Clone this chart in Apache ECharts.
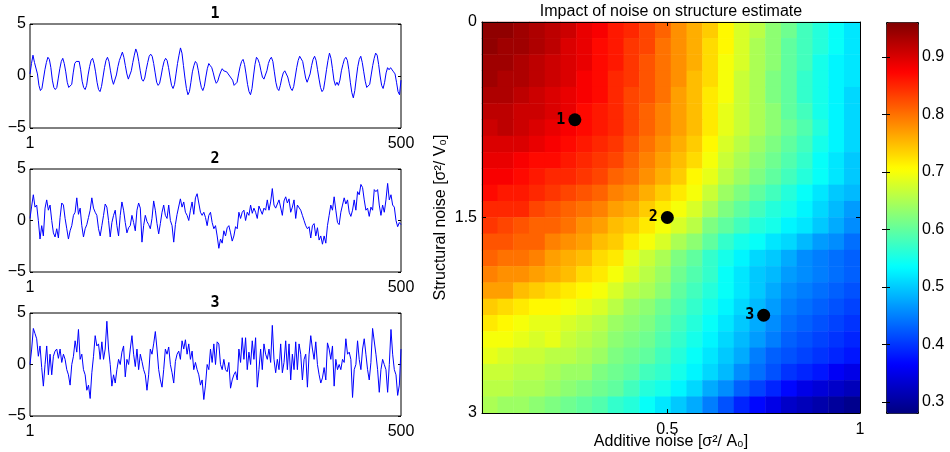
<!DOCTYPE html>
<html><head><meta charset="utf-8">
<script src="https://cdn.jsdelivr.net/npm/echarts@6/dist/echarts.min.js"></script>
<style>html,body{margin:0;padding:0;background:#fff}#c{width:950px;height:452px}</style>
</head><body><div id="c"></div>
<script>
// ---- data ----
const lineTitles = ['1', '2', '3'];
const lineXTicks = [1, 500];
const lineYTicks = [-5, 0, 5];
const series1 = [0.2,1.2,2.0,1.3,1.2,0.2,-0.9,-1.4,-1.2,-0.3, 0.6,1.3,1.8,1.6,0.8,-0.4,-1.1,-1.3,-1.1,-0.2, 0.7,1.4,1.7,1.2,0.4,-0.6,-1.1,-1.2,-0.8,0.3, 1.2,1.4,1.3,1.4,0.6,-0.5,-1.1,-1.3,-0.9,0.1, 0.9,1.5,1.7,1.2,0.4,-0.6,-1.3,-1.5,-1.0,-0.1, 0.8,1.5,1.8,1.4,0.5,-0.3,-0.8,-0.7,0.1,0.9, 1.5,1.9,2.3,1.8,1.0,0.2,-0.3,-0.2,0.5,1.3, 2.0,2.6,2.2,1.4,0.5,-0.3,-0.5,-0.2,0.6,1.3, 1.9,2.1,1.9,1.2,0.3,-0.6,-0.9,-0.7,0.0,0.8, 1.4,1.7,1.5,0.8,-0.1,-0.9,-1.2,-0.8,0.2,1.2, 2.0,2.7,2.2,1.0,-0.2,-1.2,-1.8,-1.5,-0.6,0.4, 1.0,1.4,1.2,0.5,-0.4,-1.1,-1.4,-1.0,-0.1,0.7, 1.2,1.0,0.8,0.3,-0.3,-0.7,-0.5,0.0,0.4,0.7, 0.5,0.6,0.4,0.2,0.3,-0.2,-0.4,-0.9,-1.0,-0.6, 0.2,0.9,1.4,1.6,1.1,0.2,-0.8,-1.5,-1.8,-1.2, 0.0,1.1,1.8,1.6,1.2,0.5,-0.1,-0.3,-0.2,0.5, 1.2,1.6,1.8,1.4,0.4,-0.6,-1.2,-1.4,-0.9,-0.2, 0.3,0.5,0.4,-0.1,-0.7,-1.2,-1.4,-1.0,-0.1,0.8, 1.5,1.9,1.8,1.4,0.6,-0.2,-0.6,-0.5,0.2,1.0, 1.6,1.9,1.5,0.6,-0.3,-1.1,-1.5,-1.3,-0.4,0.6, 1.5,2.2,1.7,0.7,-0.4,-0.9,-0.6,-0.9,-0.4,0.5, 1.1,1.6,1.8,1.5,0.6,-0.6,-1.6,-2.1,-1.4,-0.2, 0.9,1.6,1.9,1.3,0.4,-0.5,-1.1,-1.2,-0.8,0.1, 1.0,1.7,2.2,2.0,1.1,0.0,-0.9,-1.2,-0.6,0.3, 0.8,0.6,0.8,0.7,0.4,0.2,-0.6,-1.5,-1.8,-0.4];
const series2 = [0.2,1.4,2.5,1.3,1.5,0.0,-1.8,-0.5,-1.5,1.2, 2.0,1.0,1.5,0.0,-1.2,-1.6,-0.8,-1.7,0.3,1.7, 1.5,0.2,-0.8,-1.8,-1.0,-0.5,0.5,0.8,2.2,0.6, 1.2,-0.5,-1.6,-0.8,-0.4,0.3,1.0,2.2,1.2,0.8, 0.5,-0.8,-1.5,-0.5,0.5,1.6,1.3,0.0,-1.6,-0.2, 0.5,1.0,-0.5,-1.5,0.5,1.8,1.0,-0.2,-1.2,-0.7, -0.5,0.5,-0.2,-1.0,1.0,1.7,1.2,-2.1,-0.5,0.5, -0.1,-0.4,-0.8,0.2,1.9,1.0,-0.3,-1.3,-0.3,0.8, 1.5,0.5,0.2,1.5,0.0,-0.5,-2.1,-0.4,0.6,0.5, 2.1,1.3,1.8,0.8,0.5,0.0,1.0,1.8,0.6,2.2, 2.6,2.7,0.8,0.5,0.8,0.3,-0.5,0.5,0.8,-0.2, -0.8,-0.5,-1.5,-2.7,-1.8,-2.2,-1.0,-1.5,-0.7,-0.5, -1.2,-2.0,-1.5,-0.6,-0.8,0.8,0.2,0.8,1.0,0.0, 0.8,0.5,1.5,0.7,1.2,0.8,0.2,1.4,1.5,0.6, 1.2,1.0,2.0,1.0,1.8,3.1,1.5,1.2,1.2,2.0, 2.0,0.5,1.9,2.3,1.7,2.1,0.8,1.3,2.0,0.2, 1.5,1.5,1.0,0.5,0.0,-0.5,-0.8,-0.6,-1.7,-0.5, -0.3,-1.5,-0.7,-1.9,-1.5,-2.3,-1.5,-2.2,-0.5,0.5, 1.5,1.0,2.3,1.0,-0.2,-0.4,0.8,1.5,2.2,1.6, 2.0,0.8,0.4,1.0,2.0,1.0,2.8,2.5,3.5,3.2, 2.0,1.0,1.2,0.4,1.3,1.0,3.0,2.8,3.0,1.5, 0.5,1.5,0.8,2.0,3.6,2.0,2.5,1.5,1.3,0.0, -0.6,-0.2,-0.4];
const series3 = [0.0,1.5,3.5,3.0,2.5,0.8,1.8,-0.3,-2.1,0.0, 1.8,-1.0,1.0,-1.0,0.8,1.3,1.5,0.6,1.5,0.2, 1.0,0.5,-0.5,-1.0,-2.0,0.0,0.8,2.3,1.2,3.4, 0.5,1.0,-0.5,-1.0,-2.5,-2.0,-3.3,-0.8,0.8,2.8, 1.8,2.0,0.5,2.2,0.5,1.5,4.2,1.5,0.0,-2.1, -1.0,-1.8,-0.5,0.5,0.0,1.2,1.8,-1.2,0.5,0.0, 1.5,2.8,1.0,-0.2,1.5,-0.5,1.0,0.3,-0.5,-1.0, -2.5,-1.0,1.5,1.0,2.0,3.2,1.5,-0.5,-1.5,-2.2, -0.5,1.5,1.0,1.7,0.0,-0.8,-1.8,0.3,1.0,1.3, 0.5,2.3,1.5,2.4,1.0,2.0,0.5,1.3,-0.5,0.2, -0.5,-1.0,-2.0,-1.5,-3.4,-2.0,0.0,-0.5,1.5,0.2, 2.0,0.0,2.2,2.0,0.0,-0.5,0.5,-0.5,-0.7,0.2, -2.3,-1.5,-1.0,-0.7,-1.5,1.5,0.2,2.6,0.5,2.6, -0.5,1.2,0.0,2.3,0.5,2.6,-2.2,-0.5,1.5,-0.5, 2.0,1.0,0.5,1.5,0.2,3.8,0.5,-0.8,0.5,-0.5, 2.0,-0.8,0.2,2.3,-0.5,2.0,-1.5,1.0,-0.5,2.2, -0.5,2.0,1.0,-1.5,0.5,1.0,-2.2,1.0,2.8,1.5, 0.5,2.2,0.0,-1.0,-1.8,-1.3,-0.3,-1.5,2.1,1.5, 0.5,1.8,-2.1,0.5,-0.5,0.0,-0.5,0.5,0.2,2.5, 1.0,1.2,0.5,-3.2,-0.5,0.0,2.3,0.5,-0.5,1.5, 2.5,1.0,-0.5,-1.5,0.2,3.5,3.5,1.0,-0.5,-2.7, -0.5,0.5,0.0,-0.5,-2.7,0.0,3.4,1.0,-0.5,-1.0, -3.0,-2.0,1.5];

// heatmap: rows = structural noise from 0 (top) to 3 (bottom), columns = additive noise
const heatRows = [
[0.95,0.95,0.94,0.93,0.92,0.91,0.89,0.88,0.86,0.85,0.83,0.81,0.78,0.76,0.74,0.71,0.68,0.66,0.63,0.61,0.58,0.56,0.54,0.52],
[0.95,0.94,0.94,0.93,0.92,0.90,0.89,0.87,0.86,0.84,0.83,0.80,0.78,0.76,0.73,0.71,0.68,0.65,0.63,0.60,0.58,0.56,0.54,0.52],
[0.94,0.94,0.93,0.92,0.91,0.90,0.89,0.87,0.86,0.84,0.82,0.80,0.78,0.76,0.73,0.70,0.68,0.65,0.63,0.60,0.58,0.55,0.53,0.52],
[0.94,0.93,0.93,0.92,0.91,0.90,0.88,0.87,0.85,0.84,0.82,0.80,0.78,0.75,0.73,0.70,0.67,0.65,0.62,0.60,0.57,0.55,0.53,0.52],
[0.93,0.93,0.92,0.91,0.90,0.89,0.88,0.87,0.85,0.83,0.82,0.80,0.77,0.75,0.72,0.70,0.67,0.65,0.62,0.60,0.57,0.55,0.53,0.51],
[0.92,0.92,0.91,0.91,0.90,0.89,0.87,0.86,0.85,0.83,0.81,0.79,0.77,0.75,0.72,0.69,0.67,0.65,0.63,0.60,0.58,0.55,0.53,0.51],
[0.91,0.92,0.91,0.90,0.89,0.88,0.87,0.86,0.85,0.83,0.81,0.79,0.77,0.75,0.72,0.69,0.67,0.65,0.63,0.61,0.59,0.56,0.53,0.51],
[0.90,0.90,0.90,0.89,0.88,0.87,0.86,0.85,0.84,0.82,0.80,0.78,0.76,0.74,0.71,0.68,0.66,0.64,0.62,0.60,0.58,0.55,0.53,0.51],
[0.89,0.89,0.88,0.87,0.87,0.86,0.85,0.84,0.83,0.81,0.79,0.77,0.75,0.73,0.70,0.67,0.65,0.63,0.61,0.59,0.57,0.54,0.52,0.50],
[0.88,0.88,0.87,0.86,0.85,0.85,0.84,0.83,0.81,0.80,0.78,0.76,0.74,0.71,0.69,0.66,0.64,0.62,0.60,0.58,0.56,0.54,0.52,0.50],
[0.87,0.86,0.86,0.85,0.84,0.83,0.82,0.81,0.79,0.78,0.76,0.74,0.72,0.70,0.67,0.64,0.62,0.60,0.58,0.56,0.54,0.52,0.50,0.49],
[0.85,0.85,0.85,0.83,0.82,0.81,0.80,0.79,0.77,0.76,0.74,0.72,0.70,0.68,0.65,0.62,0.60,0.58,0.56,0.55,0.53,0.51,0.49,0.47],
[0.84,0.83,0.82,0.81,0.81,0.80,0.78,0.77,0.75,0.74,0.72,0.70,0.68,0.66,0.62,0.60,0.58,0.56,0.55,0.53,0.52,0.50,0.48,0.46],
[0.82,0.82,0.81,0.81,0.79,0.78,0.77,0.75,0.74,0.72,0.70,0.68,0.65,0.63,0.60,0.57,0.55,0.54,0.52,0.51,0.49,0.47,0.46,0.44],
[0.81,0.80,0.80,0.79,0.77,0.76,0.75,0.73,0.72,0.69,0.67,0.65,0.62,0.60,0.57,0.55,0.53,0.51,0.50,0.48,0.46,0.45,0.44,0.43],
[0.79,0.78,0.78,0.77,0.76,0.75,0.73,0.72,0.70,0.68,0.66,0.64,0.61,0.59,0.57,0.54,0.52,0.50,0.49,0.47,0.46,0.45,0.44,0.43],
[0.77,0.77,0.75,0.74,0.73,0.72,0.71,0.70,0.68,0.66,0.65,0.63,0.60,0.58,0.56,0.54,0.52,0.50,0.48,0.46,0.45,0.44,0.43,0.42],
[0.74,0.73,0.72,0.71,0.71,0.70,0.69,0.68,0.66,0.64,0.63,0.61,0.59,0.57,0.55,0.53,0.51,0.49,0.47,0.45,0.44,0.43,0.42,0.41],
[0.72,0.71,0.70,0.69,0.69,0.68,0.67,0.66,0.64,0.63,0.62,0.60,0.58,0.56,0.54,0.52,0.50,0.48,0.46,0.44,0.43,0.42,0.41,0.40],
[0.70,0.70,0.69,0.68,0.69,0.67,0.66,0.65,0.63,0.62,0.61,0.59,0.57,0.55,0.53,0.51,0.49,0.47,0.45,0.43,0.42,0.41,0.40,0.39],
[0.69,0.68,0.67,0.67,0.66,0.66,0.65,0.64,0.62,0.61,0.60,0.58,0.56,0.54,0.52,0.50,0.48,0.45,0.43,0.42,0.41,0.40,0.39,0.38],
[0.67,0.67,0.66,0.66,0.65,0.64,0.64,0.62,0.61,0.60,0.58,0.57,0.55,0.53,0.51,0.49,0.46,0.44,0.42,0.40,0.39,0.38,0.36,0.35],
[0.66,0.66,0.65,0.65,0.64,0.63,0.62,0.61,0.60,0.58,0.56,0.55,0.53,0.51,0.48,0.46,0.43,0.41,0.39,0.37,0.35,0.34,0.33,0.32],
[0.65,0.64,0.64,0.63,0.62,0.61,0.60,0.59,0.57,0.56,0.54,0.52,0.50,0.48,0.45,0.42,0.39,0.37,0.35,0.33,0.32,0.31,0.30,0.29]
];
const pointX = [0.26, 0.5, 0.75];
const pointY = [0.75, 1.5, 2.25];
const pointLabels = ['1', '2', '3'];
const heatXTicks = [0.5, 1];
const heatYTicks = [0, 1.5, 3];
const colorbarTicks = [0.3, 0.4, 0.5, 0.6, 0.7, 0.8, 0.9];
const colorMin = 0.281, colorMax = 0.961;
const jet = ['#000080','#0000ff','#0080ff','#00ffff','#80ff80','#ffff00','#ff8000','#ff0000','#800000'];

// ---- build ----
const chart = echarts.init(document.getElementById('c'), null, {renderer: 'canvas'});
const FONT = 'Liberation Sans, Arial, sans-serif';
const MONO = 'DejaVu Sans Mono, monospace';
const lineSeriesData = [series1, series2, series3];
const lineGrids = [{top: 24, height: 104}, {top: 169, height: 103}, {top: 313, height: 103}];

const grids = [], xAxes = [], yAxes = [], series = [], titles = [];
const fmtMinus = v => (v < 0 ? '\u2212' + Math.abs(v) : String(v));

lineGrids.forEach((g, i) => {
  grids.push({left: 30, width: 371, top: g.top, height: g.height, show: true,
    borderColor: '#000', borderWidth: 1, backgroundColor: 'transparent', containLabel: false, outerBoundsMode: 'none'});
  xAxes.push({type: 'value', gridIndex: i, min: 1, max: 500,
    axisLine: {show: false}, axisTick: {show: false}, splitLine: {show: false},
    axisLabel: {customValues: lineXTicks, color: '#000', fontSize: 16, fontFamily: FONT, margin: 8,
      showMinLabel: true, showMaxLabel: true}});
  titles.push({text: lineTitles[i], left: 215, top: g.top - 17, textAlign: 'center', padding: 0,
    textStyle: {fontFamily: MONO, fontWeight: 'bold', fontSize: 15, color: '#000'}});
});
lineGrids.forEach((g, i) => {
  yAxes.push({type: 'value', gridIndex: i, min: -5, max: 5, interval: 5,
    axisLine: {show: false}, splitLine: {show: false},
    axisTick: {show: true, inside: true, length: 3, lineStyle: {color: '#000'}},
    axisLabel: {color: '#000', fontSize: 16, fontFamily: FONT, margin: 4, formatter: fmtMinus}});
});
lineGrids.forEach((g, i) => {
  yAxes.push({type: 'value', gridIndex: i, min: -5, max: 5, interval: 5, position: 'right',
    axisLine: {show: false}, splitLine: {show: false}, axisLabel: {show: false},
    axisTick: {show: true, inside: true, length: 3, lineStyle: {color: '#000'}}});
});
lineSeriesData.forEach((arr, i) => {
  const n = arr.length;
  series.push({type: 'line', xAxisIndex: i, yAxisIndex: i, symbol: 'none', animation: false,
    lineStyle: {color: '#0000ff', width: 1}, itemStyle: {color: '#0000ff'},
    data: arr.map((v, j) => [1 + j * 499 / (n - 1), v])});
});

// heatmap grid (3) + overlay grid (4) + colorbar grid (5)
const HL = 482, HT = 22, HW = 378, HH = 391;
grids.push({left: HL, top: HT, width: HW, height: HH, show: false, outerBoundsMode: 'none'});
grids.push({left: HL, top: HT, width: HW, height: HH, show: false, outerBoundsMode: 'none'});
grids.push({left: 886, top: HT, width: 32, height: HH, show: false, outerBoundsMode: 'none'});

xAxes.push({type: 'category', gridIndex: 3, data: heatRows[0].map((_, c) => String(c)), show: false});
yAxes.push({type: 'category', gridIndex: 3, data: heatRows.map((_, r) => String(r)), inverse: true, show: false});

const tickStyle = {show: true, inside: true, length: 4, lineStyle: {color: '#000'}};
const lblStyle = {color: '#000', fontSize: 16, fontFamily: FONT};
xAxes.push({type: 'value', gridIndex: 4, min: 0.019, max: 1, z: 10,
  axisLine: {show: true, onZero: false, lineStyle: {color: '#000', width: 1}},
  axisTick: Object.assign({customValues: heatXTicks}, tickStyle), splitLine: {show: false},
  axisLabel: Object.assign({customValues: heatXTicks, margin: 9, showMaxLabel: true}, lblStyle),
  name: 'Additive noise [σ²/ A₀]', nameLocation: 'middle', nameGap: 21, nameMoveOverlap: false,
  nameTextStyle: {color: '#000', fontSize: 16, fontFamily: FONT}});
xAxes.push({type: 'value', gridIndex: 4, min: 0.019, max: 1, position: 'top', z: 10,
  axisLine: {show: true, onZero: false, lineStyle: {color: '#000', width: 1}},
  axisTick: Object.assign({customValues: [0.5]}, tickStyle), splitLine: {show: false}, axisLabel: {show: false}});
xAxes.push({type: 'value', gridIndex: 5, show: false, min: 0, max: 1});

yAxes.push({type: 'value', gridIndex: 4, min: 0, max: 3, inverse: true, z: 10,
  axisLine: {show: true, onZero: false, lineStyle: {color: '#000', width: 1}},
  axisTick: Object.assign({customValues: [1.5]}, tickStyle), splitLine: {show: false},
  axisLabel: Object.assign({customValues: heatYTicks, margin: 5, showMinLabel: true, showMaxLabel: true}, lblStyle),
  name: 'Structural noise [σ²/ V₀]', nameLocation: 'middle', nameGap: 33, nameRotate: 90, nameMoveOverlap: false,
  nameTextStyle: {color: '#000', fontSize: 16, fontFamily: FONT}});
yAxes.push({type: 'value', gridIndex: 4, min: 0, max: 3, inverse: true, position: 'right', z: 10,
  axisLine: {show: true, onZero: false, lineStyle: {color: '#000', width: 1}},
  axisTick: Object.assign({customValues: [1.5]}, tickStyle), splitLine: {show: false}, axisLabel: {show: false}});
yAxes.push({type: 'value', gridIndex: 5, min: colorMin, max: colorMax, position: 'right', z: 10,
  axisLine: {show: false}, splitLine: {show: false},
  axisTick: Object.assign({customValues: colorbarTicks}, tickStyle),
  axisLabel: Object.assign({customValues: colorbarTicks, margin: 4}, lblStyle)});
yAxes.push({type: 'value', gridIndex: 5, min: colorMin, max: colorMax, position: 'left', z: 10,
  axisLine: {show: false}, splitLine: {show: false},
  axisTick: Object.assign({customValues: colorbarTicks}, tickStyle), axisLabel: {show: false}});

const heatData = [];
heatRows.forEach((row, r) => row.forEach((v, c) => heatData.push([c, r, v])));
series.push({type: 'heatmap', xAxisIndex: 3, yAxisIndex: 6, data: heatData, animation: false,
  itemStyle: {borderWidth: 0}, emphasis: {disabled: true}, progressive: 0, z: 2});
series.push({type: 'scatter', xAxisIndex: 4, yAxisIndex: 7, symbolSize: 13, animation: false, z: 6,
  itemStyle: {color: '#000', opacity: 1},
  data: pointX.map((x, i) => [x, pointY[i]]),
  label: {show: true, position: 'left', distance: 3, color: '#000', fontFamily: MONO,
    fontWeight: 'bold', fontSize: 15, formatter: p => pointLabels[p.dataIndex]}});

titles.push({text: 'Impact of noise on structure estimate', left: 671, top: 4, textAlign: 'center', padding: 0,
  textStyle: {fontFamily: FONT, fontWeight: 'normal', fontSize: 16, color: '#000'}});

chart.setOption({
  animation: false,
  backgroundColor: '#fff',
  title: titles,
  grid: grids,
  xAxis: xAxes,
  yAxis: yAxes,
  visualMap: {type: 'continuous', min: colorMin, max: colorMax, seriesIndex: 3, dimension: 2,
    inRange: {color: jet}, calculable: false, orient: 'vertical', left: 886, top: HT,
    itemWidth: 32, itemHeight: HH, padding: 0, borderWidth: 1, borderColor: '#000', text: null, hoverLink: false},
  series: series
});
</script></body></html>
